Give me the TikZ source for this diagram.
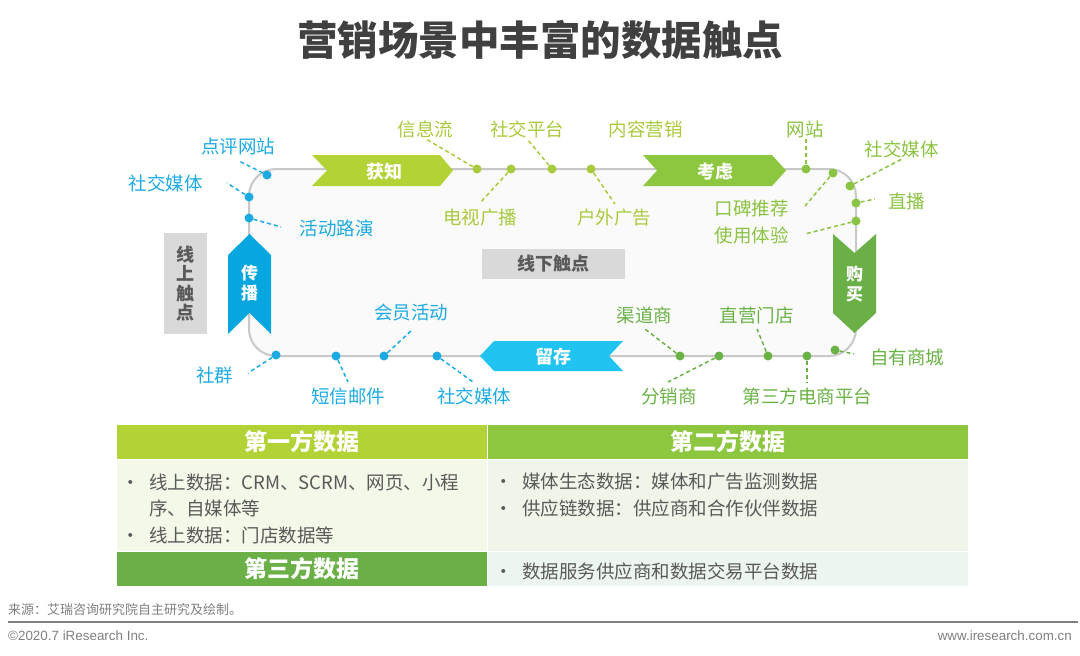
\documentclass[tikz,border=0pt]{standalone}
\usepackage{fontspec}
\setmainfont{Noto Sans CJK SC}
\newfontfamily\footlatin{Liberation Sans}
\usepackage{tikz}
\definecolor{titlegray}{RGB}{64,64,64}
\definecolor{touchblue}{RGB}{28,170,226}
\definecolor{spreadblue}{RGB}{8,166,222}
\definecolor{retainblue}{RGB}{33,196,241}
\definecolor{awaregreen}{RGB}{178,210,53}
\definecolor{considergreen}{RGB}{141,198,63}
\definecolor{buygreen}{RGB}{106,176,70}
\definecolor{ygtext}{RGB}{168,202,60}
\definecolor{greentext}{RGB}{139,195,66}
\definecolor{darkgreentext}{RGB}{106,178,70}
\definecolor{boxgray}{RGB}{217,217,217}
\definecolor{boxtext}{RGB}{89,89,89}
\definecolor{loopgray}{RGB}{200,200,200}
\definecolor{loopfill}{RGB}{250,250,250}
\definecolor{cellone}{RGB}{244,248,232}
\definecolor{celltwo}{RGB}{239,246,233}
\definecolor{cellthree}{RGB}{237,246,238}
\definecolor{bodygray}{RGB}{89,89,89}
\definecolor{footgray}{RGB}{127,127,127}
\newcommand{\tpbullet}{\makebox[28pt][l]{•}}

\begin{document}
\begin{tikzpicture}[
        x=1pt, y=-1pt,
        titletext/.style={text=titlegray, font=\fontsize{40.5}{44}\selectfont\bfseries, inner sep=0pt},
        loopbox/.style={rectangle, rounded corners=27pt, draw=loopgray, line width=2pt, fill=loopfill, minimum width=607pt, minimum height=187pt, inner sep=0pt},
        stagetext/.style={text=white, font=\fontsize{18}{20}\selectfont\bfseries, inner sep=0pt, align=center},
        graybox/.style={rectangle, fill=boxgray, text=boxtext, font=\fontsize{18}{19.5}\selectfont\bfseries, inner sep=0pt, align=center},
        bluelabel/.style={text=touchblue, font=\fontsize{18.5}{20}\selectfont, inner sep=0pt},
        yglabel/.style={text=ygtext, font=\fontsize{18.5}{20}\selectfont, inner sep=0pt},
        greenlabel/.style={text=greentext, font=\fontsize{18.5}{20}\selectfont, inner sep=0pt},
        darklabel/.style={text=darkgreentext, font=\fontsize{18.5}{20}\selectfont, inner sep=0pt},
        bluedot/.style={circle, fill=touchblue, minimum size=9pt, inner sep=0pt},
        ygdot/.style={circle, fill=ygtext, minimum size=9pt, inner sep=0pt},
        greendot/.style={circle, fill=greentext, minimum size=9pt, inner sep=0pt},
        darkdot/.style={circle, fill=darkgreentext, minimum size=9pt, inner sep=0pt},
        bluelead/.style={touchblue, line width=1.5pt, dash pattern=on 4pt off 3pt},
        yglead/.style={ygtext, line width=1.5pt, dash pattern=on 4pt off 3pt},
        greenlead/.style={greentext, line width=1.5pt, dash pattern=on 4pt off 3pt},
        darklead/.style={darkgreentext, line width=1.5pt, dash pattern=on 4pt off 3pt},
        headcell/.style={rectangle, draw=white, line width=1pt, text=white, font=\fontsize{23}{26}\selectfont\bfseries, inner sep=0pt},
        bodycell/.style={rectangle, draw=white, line width=1pt, inner sep=0pt},
        bodytext/.style={text=bodygray, font=\fontsize{18.5}{20}\selectfont, inner sep=0pt, anchor=west},
        foottext/.style={text=footgray, inner sep=0pt}
    ]
    \useasboundingbox (0,0) rectangle (1080,656);

    % Title
    \node[titletext] (title) at (540,40) {营销场景中丰富的数据触点};

    % Touch point loop
    \node[loopbox] (loop) at (552.5,262.5) {};

    % Stage chevrons
    \fill[awaregreen] (312,155) -- (440,155) -- (453,170.5) -- (440,186) -- (312,186) -- (327,170.5) -- cycle;
    \node[stagetext] (huozhi) at (384,171.5) {获知};
    \fill[considergreen] (643,155) -- (772,155) -- (786,170.5) -- (772,186) -- (643,186) -- (657,170.5) -- cycle;
    \node[stagetext] (kaolv) at (715,171.5) {考虑};
    \fill[buygreen] (833,234) -- (854.5,253) -- (876,234) -- (876,313) -- (854.5,333) -- (833,313) -- cycle;
    \node[stagetext, font=\fontsize{17}{20}\selectfont\bfseries] (goumai) at (854.5,284) {购\\买};
    \fill[retainblue] (480,356) -- (494,341) -- (623,341) -- (609,356) -- (623,371) -- (494,371) -- cycle;
    \node[stagetext] (liucun) at (553,356.5) {留存};
    \fill[spreadblue] (228,255) -- (249.5,234) -- (271,255) -- (271,334) -- (249.5,313) -- (228,334) -- cycle;
    \node[stagetext, font=\fontsize{17}{20}\selectfont\bfseries] (chuanbo) at (249.5,283) {传\\播};

    % Online / offline boxes
    \node[graybox, minimum width=43pt, minimum height=101pt] (online) at (185.5,283.5) {线\\上\\触\\点};
    \node[graybox, minimum width=143pt, minimum height=30pt] (offline) at (553.5,264) {线下触点};

    % Blue touch points
    \node[bluelabel] (dianping) at (238,146) {点评网站};
    \node[bluedot] (dianping_dot) at (267,175) {};
    \coordinate (dianping_end) at (239,161);
    \draw[bluelead] (dianping_dot) -- (dianping_end);
    \node[bluelabel] (meiti_l) at (165.5,183) {社交媒体};
    \node[bluedot] (meiti_l_dot) at (249,197) {};
    \coordinate (meiti_l_end) at (227,183);
    \draw[bluelead] (meiti_l_dot) -- (meiti_l_end);
    \node[bluelabel] (luyan) at (336.5,228) {活动路演};
    \node[bluedot] (luyan_dot) at (249,218) {};
    \coordinate (luyan_end) at (281,227);
    \draw[bluelead] (luyan_dot) -- (luyan_end);
    \node[bluelabel] (shequn) at (214.5,375) {社群};
    \node[bluedot] (shequn_dot) at (276,355) {};
    \coordinate (shequn_end) at (248,373);
    \draw[bluelead] (shequn_dot) -- (shequn_end);
    \node[bluelabel] (duanxin) at (348,396) {短信邮件};
    \node[bluedot] (duanxin_dot) at (336,356) {};
    \coordinate (duanxin_end) at (348,382);
    \draw[bluelead] (duanxin_dot) -- (duanxin_end);
    \node[bluelabel] (huiyuan) at (411,313) {会员活动};
    \node[bluedot] (huiyuan_dot) at (384,356) {};
    \coordinate (huiyuan_end) at (412,330);
    \draw[bluelead] (huiyuan_dot) -- (huiyuan_end);
    \node[bluelabel] (meiti_b) at (474,396) {社交媒体};
    \node[bluedot] (meiti_b_dot) at (437,356) {};
    \coordinate (meiti_b_end) at (473,382);
    \draw[bluelead] (meiti_b_dot) -- (meiti_b_end);

    % Yellow-green touch points
    \node[yglabel] (xinxi) at (425.5,129) {信息流};
    \node[ygdot] (xinxi_dot) at (477,169) {};
    \coordinate (xinxi_end) at (426,139);
    \draw[yglead] (xinxi_dot) -- (xinxi_end);
    \node[yglabel] (pingtai) at (527,129) {社交平台};
    \node[ygdot] (pingtai_dot) at (552,169) {};
    \coordinate (pingtai_end) at (528,140);
    \draw[yglead] (pingtai_dot) -- (pingtai_end);
    \node[yglabel] (dianshi) at (480,218) {电视广播};
    \node[ygdot] (dianshi_dot) at (511,169) {};
    \coordinate (dianshi_end) at (480,203);
    \draw[yglead] (dianshi_dot) -- (dianshi_end);
    \node[yglabel] (neirong) at (645.5,129) {内容营销};
    \node[yglabel] (huwai) at (614,218) {户外广告};
    \node[ygdot] (huwai_dot) at (591,169) {};
    \coordinate (huwai_end) at (615,204);
    \draw[yglead] (huwai_dot) -- (huwai_end);

    % Green touch points
    \node[greenlabel] (wangzhan) at (805,129) {网站};
    \node[greendot] (wangzhan_dot) at (806,169) {};
    \coordinate (wangzhan_end) at (806,139);
    \draw[greenlead] (wangzhan_dot) -- (wangzhan_end);
    \node[greenlabel] (meiti_r) at (901.5,149) {社交媒体};
    \node[greendot] (meiti_r_dot) at (850,186) {};
    \coordinate (meiti_r_end) at (902,159);
    \draw[greenlead] (meiti_r_dot) -- (meiti_r_end);
    \node[greenlabel] (zhibo) at (906.5,201) {直播};
    \node[greendot] (zhibo_dot) at (856,203) {};
    \coordinate (zhibo_end) at (875,199);
    \draw[greenlead] (zhibo_dot) -- (zhibo_end);
    \node[greenlabel] (koubei) at (751.5,208) {口碑推荐};
    \node[greendot] (koubei_dot) at (833,173) {};
    \coordinate (koubei_end) at (805,206);
    \draw[greenlead] (koubei_dot) -- (koubei_end);
    \node[greenlabel] (shiyong) at (751.5,235) {使用体验};
    \node[greendot] (shiyong_dot) at (856,221) {};
    \coordinate (shiyong_end) at (805,234);
    \draw[greenlead] (shiyong_dot) -- (shiyong_end);

    % Dark green touch points
    \node[darklabel] (qudao) at (644.5,315) {渠道商};
    \node[darkdot] (qudao_dot) at (680,356) {};
    \coordinate (qudao_end) at (645,329);
    \draw[darklead] (qudao_dot) -- (qudao_end);
    \node[darklabel] (fenxiao) at (669,396) {分销商};
    \node[darkdot] (fenxiao_dot) at (719,356) {};
    \coordinate (fenxiao_end) at (668,382);
    \draw[darklead] (fenxiao_dot) -- (fenxiao_end);
    \node[darklabel] (zhiying) at (756.5,315) {直营门店};
    \node[darkdot] (zhiying_dot) at (768,356) {};
    \coordinate (zhiying_end) at (757,329);
    \draw[darklead] (zhiying_dot) -- (zhiying_end);
    \node[darklabel] (dianshang) at (807.5,396) {第三方电商平台};
    \node[darkdot] (dianshang_dot) at (807,356) {};
    \coordinate (dianshang_end) at (807,382);
    \draw[darklead] (dianshang_dot) -- (dianshang_end);
    \node[darklabel] (ziyou) at (907,357) {自有商城};
    \node[darkdot] (ziyou_dot) at (835,350) {};
    \coordinate (ziyou_end) at (854,354);
    \draw[darklead] (ziyou_dot) -- (ziyou_end);

    % Data table
    \node[headcell, fill=awaregreen, minimum width=371pt, minimum height=35pt] (first) at (301.5,441.5) {第一方数据};
    \node[headcell, fill=considergreen, minimum width=481pt, minimum height=35pt] (second) at (727.5,441.5) {第二方数据};
    \node[bodycell, fill=cellone, minimum width=371pt, minimum height=92pt] (first_body) at (301.5,505) {};
    \node[bodycell, fill=celltwo, minimum width=481pt, minimum height=92pt] (second_body) at (727.5,505) {};
    \node[headcell, fill=buygreen, minimum width=371pt, minimum height=35pt] (third) at (301.5,568.5) {第三方数据};
    \node[bodycell, fill=cellthree, minimum width=481pt, minimum height=35pt] (third_body) at (727.5,568.5) {};

    \node[bodytext] (first_a) at (121,482) {\tpbullet 线上数据：CRM、SCRM、网页、小程};
    \node[bodytext] (first_b) at (149,508) {序、自媒体等};
    \node[bodytext] (first_c) at (121,535) {\tpbullet 线上数据：门店数据等};
    \node[bodytext] (second_a) at (494,482) {\tpbullet 媒体生态数据：媒体和广告监测数据};
    \node[bodytext] (second_b) at (494,508) {\tpbullet 供应链数据：供应商和合作伙伴数据};
    \node[bodytext] (third_a) at (494,571) {\tpbullet 数据服务供应商和数据交易平台数据};

    % Footer
    \node[foottext, anchor=west, font=\fontsize{13}{15}\selectfont] (source) at (8,610) {来源：艾瑞咨询研究院自主研究及绘制。};
    \draw[footgray, line width=2pt] (8,622) -- (1078,622);
    \node[foottext, anchor=west, font=\fontsize{13.4}{15}\selectfont\footlatin] (copyright) at (8,636) {©2020.7 iResearch Inc.};
    \node[foottext, anchor=east, font=\fontsize{13.4}{15}\selectfont\footlatin] (website) at (1072,636) {www.iresearch.com.cn};

\end{tikzpicture}
\end{document}
